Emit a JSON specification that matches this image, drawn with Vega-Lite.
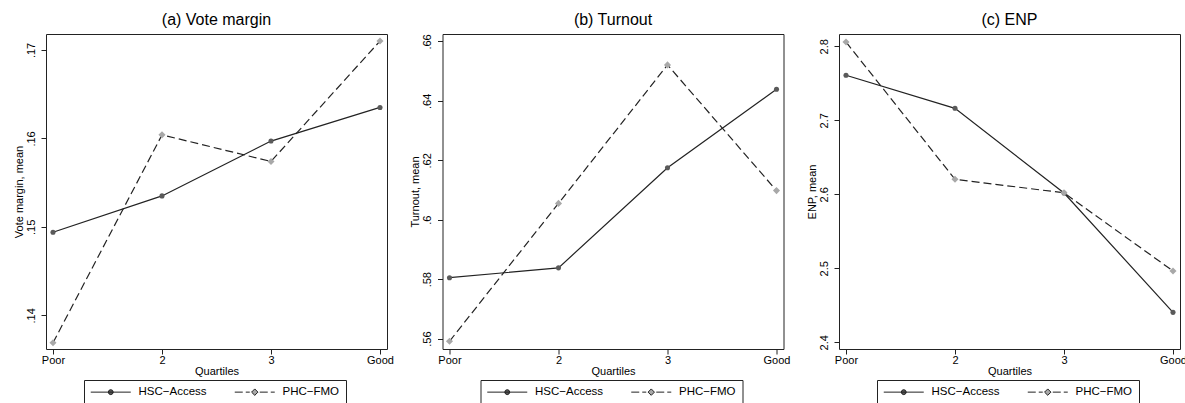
{
  "$schema": "https://vega.github.io/schema/vega-lite/v6.json",
  "autosize": {"type": "pad"},
  "padding": {"left": 12, "top": 11, "right": 0, "bottom": 0},
  "background": "white",
  "datasets": {
    "vote": [
      {"quartile": 1, "series": "HSC−Access", "value": 0.1494},
      {"quartile": 2, "series": "HSC−Access", "value": 0.1535},
      {"quartile": 3, "series": "HSC−Access", "value": 0.1597},
      {"quartile": 4, "series": "HSC−Access", "value": 0.1635},
      {"quartile": 1, "series": "PHC−FMO", "value": 0.1369},
      {"quartile": 2, "series": "PHC−FMO", "value": 0.1604},
      {"quartile": 3, "series": "PHC−FMO", "value": 0.1574},
      {"quartile": 4, "series": "PHC−FMO", "value": 0.1710}
    ],
    "turnout": [
      {"quartile": 1, "series": "HSC−Access", "value": 0.5805},
      {"quartile": 2, "series": "HSC−Access", "value": 0.5838},
      {"quartile": 3, "series": "HSC−Access", "value": 0.6175},
      {"quartile": 4, "series": "HSC−Access", "value": 0.6439},
      {"quartile": 1, "series": "PHC−FMO", "value": 0.5591},
      {"quartile": 2, "series": "PHC−FMO", "value": 0.6055},
      {"quartile": 3, "series": "PHC−FMO", "value": 0.6521},
      {"quartile": 4, "series": "PHC−FMO", "value": 0.6098}
    ],
    "enp": [
      {"quartile": 1, "series": "HSC−Access", "value": 2.7608},
      {"quartile": 2, "series": "HSC−Access", "value": 2.7162},
      {"quartile": 3, "series": "HSC−Access", "value": 2.6018},
      {"quartile": 4, "series": "HSC−Access", "value": 2.4405},
      {"quartile": 1, "series": "PHC−FMO", "value": 2.8058},
      {"quartile": 2, "series": "PHC−FMO", "value": 2.6203},
      {"quartile": 3, "series": "PHC−FMO", "value": 2.6020},
      {"quartile": 4, "series": "PHC−FMO", "value": 2.4964}
    ]
  },
  "spacing": 55.5,
  "bounds": "flush",
  "resolve": {"scale": {"shape": "independent", "fill": "independent", "y": "independent", "x": "independent"}, "legend": {"shape": "independent", "fill": "independent"}},
  "hconcat": [
    {
      "width": 341, "height": 315,
      "title": "(a) Vote margin",
      "data": {"name": "vote"},
      "encoding": {
        "x": {"field": "quartile", "type": "quantitative", "scale": {"domain": [0.9358, 4.0642], "nice": false, "zero": false},
              "axis": {"title": "Quartiles", "values": [1, 2, 3, 4], "labelExpr": "datum.value == 1 ? 'Poor' : datum.value == 4 ? 'Good' : datum.label"}},
        "y": {"field": "value", "type": "quantitative", "scale": {"domain": [0.1362, 0.1718], "nice": false, "zero": false},
              "axis": {"title": "Vote margin, mean", "values": [0.14, 0.15, 0.16, 0.17], "labelExpr": "replace(format(datum.value, '.2~f'), '0.', '.')"}}
      },
      "layer": [
        {"transform": [{"filter": "datum.series == 'HSC−Access'"}], "mark": {"type": "line", "color": "#222", "strokeWidth": 1.2}},
        {"transform": [{"filter": "datum.series == 'PHC−FMO'"}], "mark": {"type": "line", "color": "#222", "strokeWidth": 1.2, "strokeDash": [8, 4]}},
        {"transform": [{"filter": "datum.series == 'HSC−Access'"}], "mark": {"type": "point", "shape": "circle", "filled": true, "opacity": 1, "color": "#5a5a5a", "size": 26}},
        {"transform": [{"filter": "datum.series == 'PHC−FMO'"}], "mark": {"type": "point", "shape": "diamond", "filled": true, "opacity": 1, "color": "#a8a8a8", "size": 50}},
        {"mark": {"type": "point", "filled": true, "opacity": 0, "stroke": "#222", "strokeWidth": 1},
         "encoding": {
           "shape": {"field": "series", "type": "nominal", "scale": {"domain": ["HSC−Access", "PHC−FMO"], "range": ["M-1,0H7M3.5,0L3.354,0.354L3,0.5L2.646,0.354L2.5,0L2.646,-0.354L3,-0.5L3.354,-0.354Z", "M-1,0H0.6M1.2,0H2M4,0H5.6M6.2,0H7M3,-0.64L3.64,0L3,0.64L2.36,0Z"]},
             "legend": {"title": null, "orient": "none", "legendX": 38, "legendY": 346, "direction": "horizontal", "strokeColor": "#222", "padding": 6, "labelOffset": 37, "columnPadding": 25, "symbolSize": 100, "symbolStrokeWidth": 1, "symbolOpacity": 1, "symbolStrokeColor": "#222", "labelFontSize": 11.5, "labelColor": "#000",
               "encode": {"symbols": {"update": {"stroke": {"value": "#222"}, "strokeWidth": {"value": 1}, "opacity": {"value": 1}, "strokeOpacity": {"value": 1}, "fillOpacity": {"value": 1}}}}}},
           "fill": {"field": "series", "type": "nominal", "scale": {"domain": ["HSC−Access", "PHC−FMO"], "range": ["#5a5a5a", "#a8a8a8"]},
             "legend": {"title": null, "orient": "none", "legendX": 38, "legendY": 346, "direction": "horizontal", "strokeColor": "#222", "padding": 6, "labelOffset": 37, "columnPadding": 25, "symbolSize": 100, "symbolStrokeWidth": 1, "symbolOpacity": 1, "symbolStrokeColor": "#222", "labelFontSize": 11.5, "labelColor": "#000",
               "encode": {"symbols": {"update": {"stroke": {"value": "#222"}, "strokeWidth": {"value": 1}, "opacity": {"value": 1}, "strokeOpacity": {"value": 1}, "fillOpacity": {"value": 1}}}}}}
         }}
      ]
    },
    {
      "width": 341, "height": 315,
      "title": "(b) Turnout",
      "data": {"name": "turnout"},
      "encoding": {
        "x": {"field": "quartile", "type": "quantitative", "scale": {"domain": [0.9358, 4.0642], "nice": false, "zero": false},
              "axis": {"title": "Quartiles", "values": [1, 2, 3, 4], "labelExpr": "datum.value == 1 ? 'Poor' : datum.value == 4 ? 'Good' : datum.label"}},
        "y": {"field": "value", "type": "quantitative", "scale": {"domain": [0.5565, 0.6625], "nice": false, "zero": false},
              "axis": {"title": "Turnout, mean", "values": [0.56, 0.58, 0.6, 0.62, 0.64, 0.66], "labelExpr": "replace(format(datum.value, '.2~f'), '0.', '.')"}}
      },
      "layer": [
        {"transform": [{"filter": "datum.series == 'HSC−Access'"}], "mark": {"type": "line", "color": "#222", "strokeWidth": 1.2}},
        {"transform": [{"filter": "datum.series == 'PHC−FMO'"}], "mark": {"type": "line", "color": "#222", "strokeWidth": 1.2, "strokeDash": [8, 4]}},
        {"transform": [{"filter": "datum.series == 'HSC−Access'"}], "mark": {"type": "point", "shape": "circle", "filled": true, "opacity": 1, "color": "#5a5a5a", "size": 26}},
        {"transform": [{"filter": "datum.series == 'PHC−FMO'"}], "mark": {"type": "point", "shape": "diamond", "filled": true, "opacity": 1, "color": "#a8a8a8", "size": 50}},
        {"mark": {"type": "point", "filled": true, "opacity": 0, "stroke": "#222", "strokeWidth": 1},
         "encoding": {
           "shape": {"field": "series", "type": "nominal", "scale": {"domain": ["HSC−Access", "PHC−FMO"], "range": ["M-1,0H7M3.5,0L3.354,0.354L3,0.5L2.646,0.354L2.5,0L2.646,-0.354L3,-0.5L3.354,-0.354Z", "M-1,0H0.6M1.2,0H2M4,0H5.6M6.2,0H7M3,-0.64L3.64,0L3,0.64L2.36,0Z"]},
             "legend": {"title": null, "orient": "none", "legendX": 38, "legendY": 346, "direction": "horizontal", "strokeColor": "#222", "padding": 6, "labelOffset": 37, "columnPadding": 25, "symbolSize": 100, "symbolStrokeWidth": 1, "symbolOpacity": 1, "symbolStrokeColor": "#222", "labelFontSize": 11.5, "labelColor": "#000",
               "encode": {"symbols": {"update": {"stroke": {"value": "#222"}, "strokeWidth": {"value": 1}, "opacity": {"value": 1}, "strokeOpacity": {"value": 1}, "fillOpacity": {"value": 1}}}}}},
           "fill": {"field": "series", "type": "nominal", "scale": {"domain": ["HSC−Access", "PHC−FMO"], "range": ["#5a5a5a", "#a8a8a8"]},
             "legend": {"title": null, "orient": "none", "legendX": 38, "legendY": 346, "direction": "horizontal", "strokeColor": "#222", "padding": 6, "labelOffset": 37, "columnPadding": 25, "symbolSize": 100, "symbolStrokeWidth": 1, "symbolOpacity": 1, "symbolStrokeColor": "#222", "labelFontSize": 11.5, "labelColor": "#000",
               "encode": {"symbols": {"update": {"stroke": {"value": "#222"}, "strokeWidth": {"value": 1}, "opacity": {"value": 1}, "strokeOpacity": {"value": 1}, "fillOpacity": {"value": 1}}}}}}
         }}
      ]
    },
    {
      "width": 341, "height": 315,
      "title": "(c) ENP",
      "data": {"name": "enp"},
      "encoding": {
        "x": {"field": "quartile", "type": "quantitative", "scale": {"domain": [0.9358, 4.0642], "nice": false, "zero": false},
              "axis": {"title": "Quartiles", "values": [1, 2, 3, 4], "labelExpr": "datum.value == 1 ? 'Poor' : datum.value == 4 ? 'Good' : datum.label"}},
        "y": {"field": "value", "type": "quantitative", "scale": {"domain": [2.391, 2.8166], "nice": false, "zero": false},
              "axis": {"title": "ENP, mean", "values": [2.4, 2.5, 2.6, 2.7, 2.8], "labelExpr": "format(datum.value, '.1f')"}}
      },
      "layer": [
        {"transform": [{"filter": "datum.series == 'HSC−Access'"}], "mark": {"type": "line", "color": "#222", "strokeWidth": 1.2}},
        {"transform": [{"filter": "datum.series == 'PHC−FMO'"}], "mark": {"type": "line", "color": "#222", "strokeWidth": 1.2, "strokeDash": [8, 4]}},
        {"transform": [{"filter": "datum.series == 'HSC−Access'"}], "mark": {"type": "point", "shape": "circle", "filled": true, "opacity": 1, "color": "#5a5a5a", "size": 26}},
        {"transform": [{"filter": "datum.series == 'PHC−FMO'"}], "mark": {"type": "point", "shape": "diamond", "filled": true, "opacity": 1, "color": "#a8a8a8", "size": 50}},
        {"mark": {"type": "point", "filled": true, "opacity": 0, "stroke": "#222", "strokeWidth": 1},
         "encoding": {
           "shape": {"field": "series", "type": "nominal", "scale": {"domain": ["HSC−Access", "PHC−FMO"], "range": ["M-1,0H7M3.5,0L3.354,0.354L3,0.5L2.646,0.354L2.5,0L2.646,-0.354L3,-0.5L3.354,-0.354Z", "M-1,0H0.6M1.2,0H2M4,0H5.6M6.2,0H7M3,-0.64L3.64,0L3,0.64L2.36,0Z"]},
             "legend": {"title": null, "orient": "none", "legendX": 38, "legendY": 346, "direction": "horizontal", "strokeColor": "#222", "padding": 6, "labelOffset": 37, "columnPadding": 25, "symbolSize": 100, "symbolStrokeWidth": 1, "symbolOpacity": 1, "symbolStrokeColor": "#222", "labelFontSize": 11.5, "labelColor": "#000",
               "encode": {"symbols": {"update": {"stroke": {"value": "#222"}, "strokeWidth": {"value": 1}, "opacity": {"value": 1}, "strokeOpacity": {"value": 1}, "fillOpacity": {"value": 1}}}}}},
           "fill": {"field": "series", "type": "nominal", "scale": {"domain": ["HSC−Access", "PHC−FMO"], "range": ["#5a5a5a", "#a8a8a8"]},
             "legend": {"title": null, "orient": "none", "legendX": 38, "legendY": 346, "direction": "horizontal", "strokeColor": "#222", "padding": 6, "labelOffset": 37, "columnPadding": 25, "symbolSize": 100, "symbolStrokeWidth": 1, "symbolOpacity": 1, "symbolStrokeColor": "#222", "labelFontSize": 11.5, "labelColor": "#000",
               "encode": {"symbols": {"update": {"stroke": {"value": "#222"}, "strokeWidth": {"value": 1}, "opacity": {"value": 1}, "strokeOpacity": {"value": 1}, "fillOpacity": {"value": 1}}}}}}
         }}
      ]
    }
  ],
  "config": {
    "font": "Liberation Sans",
    "view": {"stroke": "#222", "strokeWidth": 1},
    "title": {"fontSize": 16, "fontWeight": "normal", "color": "#000", "offset": 6, "font": "Liberation Sans"},
    "axis": {"domain": false, "grid": false, "tickSize": 5, "tickColor": "#222", "tickWidth": 1, "labelFont": "Liberation Sans", "labelFontSize": 11, "labelColor": "#000", "titleFont": "Liberation Sans", "titleFontSize": 11, "titleFontWeight": "normal", "titleColor": "#000"},
    "axisX": {"labelPadding": 0, "titlePadding": 0, "labelFlush": false},
    "axisY": {"labelAngle": -90, "labelAlign": "center", "labelBaseline": "bottom", "labelPadding": 5, "titlePadding": 1},
    "legend": {"labelFont": "Liberation Sans"}
  }
}
